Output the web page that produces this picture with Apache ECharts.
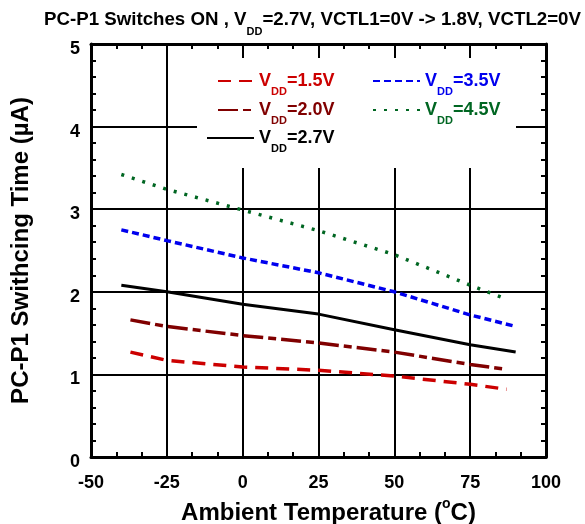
<!DOCTYPE html>
<html>
<head>
<meta charset="utf-8">
<script src="https://cdn.jsdelivr.net/npm/echarts@6/dist/echarts.min.js"></script>
<style>
html,body{margin:0;padding:0;background:#fff;}
#chart{width:585px;height:524px;}
</style>
</head>
<body>
<div id="chart"></div>
<script>
// ---- data ----
const xTicks = [-50, -25, 0, 25, 50, 75, 100];
const yTicks = [0, 1, 2, 3, 4, 5];
const seriesNames = ['1.5', '2.0', '2.7', '3.5', '4.5'];
const x15 = [-37, -25, 0, 25, 50, 75, 87];
const y15 = [1.27, 1.17, 1.09, 1.05, 0.98, 0.88, 0.82];
const x20 = [-37, -25, 0, 25, 50, 75, 87];
const y20 = [1.66, 1.58, 1.47, 1.38, 1.27, 1.12, 1.06];
const x27 = [-40, -25, 0, 25, 50, 75, 90];
const y27 = [2.08, 2.00, 1.85, 1.73, 1.54, 1.36, 1.27];
const x35 = [-40, -25, 0, 25, 50, 75, 89];
const y35 = [2.75, 2.62, 2.41, 2.23, 2.00, 1.72, 1.59];
const x45 = [-40, -25, 0, 25, 50, 75, 87];
const y45 = [3.42, 3.24, 2.99, 2.74, 2.45, 2.08, 1.91];

const zip = (xs, ys) => xs.map((x, i) => [x, ys[i]]);
const FONT = '"Liberation Sans", Arial, sans-serif';

const styles = {
  '1.5': {color: '#cc0000', type: [13, 8], width: 3.5},
  '2.0': {color: '#800000', type: [20, 5, 8, 5], width: 3.5},
  '2.7': {color: '#000000', type: 'solid', width: 3},
  '3.5': {color: '#0000ee', type: [7, 4], width: 3.5},
  '4.5': {color: '#006622', type: [3, 8], width: 3.5}
};
const dataMap = {'1.5': zip(x15, y15), '2.0': zip(x20, y20), '2.7': zip(x27, y27), '3.5': zip(x35, y35), '4.5': zip(x45, y45)};

const series = seriesNames.map(n => ({
  name: n,
  type: 'line',
  symbol: 'none',
  z: 3,
  data: dataMap[n],
  itemStyle: {color: styles[n].color},
  lineStyle: {color: styles[n].color, width: styles[n].width, type: styles[n].type}
}));

const legendRich = {
  v: {fontFamily: FONT, fontWeight: 'bold', fontSize: 18, lineHeight: 24, verticalAlign: 'middle'},
  s: {fontFamily: FONT, fontWeight: 'bold', fontSize: 11, lineHeight: 24, verticalAlign: 'bottom', padding: [0, 0, -4, 0]}
};
function mkLegend(name, left, top, w) {
  return {
    data: [{name: name, textStyle: {color: styles[name].color}}],
    left: left, top: top, orient: 'vertical', padding: 0,
    itemWidth: w, itemHeight: 12, itemGap: 0,
    selectedMode: false, z: 5,
    itemStyle: {opacity: 0, borderWidth: 0},
    formatter: n => '{v|V}{s|DD}{v|=' + n + 'V}',
    textStyle: {rich: legendRich}
  };
}

const axisLine = {onZero: false, lineStyle: {color: '#000', width: 3}};
const tick = {inside: true, length: 14, lineStyle: {color: '#000', width: 2}};
const lblFont = {fontFamily: FONT, fontWeight: 'bold', fontSize: 18, color: '#000'};

const option = {
  animation: false,
  backgroundColor: '#fff',
  title: {
    text: '{m|PC-P1 Switches ON , V}{s|DD}{m|=2.7V, VCTL1=0V -> 1.8V, VCTL2=0V}',
    left: 44, top: 8, padding: 0,
    textStyle: {
      rich: {
        m: {fontFamily: FONT, fontWeight: 'bold', fontSize: 18.7, color: '#000', lineHeight: 24},
        s: {fontFamily: FONT, fontWeight: 'bold', fontSize: 11, color: '#000', lineHeight: 24, verticalAlign: 'bottom', padding: [0, 0, -5, 0]}
      }
    }
  },
  legend: [
    mkLegend('1.5', 217, 72, 36),
    mkLegend('2.0', 217, 101, 36),
    mkLegend('2.7', 206, 129, 47),
    mkLegend('3.5', 372, 72, 47),
    mkLegend('4.5', 372, 101, 47)
  ],
  graphic: [{
    type: 'rect', z: 1,
    shape: {x: 197, y: 58, width: 319, height: 110},
    style: {fill: '#fff'}
  }],
  grid: {left: 91, top: 44, width: 455, height: 413, containLabel: false, outerBoundsMode: 'none'},
  xAxis: [{
    type: 'value', min: -50, max: 100, interval: 25, position: 'bottom',
    name: '{m|Ambient Temperature (}{p|o}{m|C)}',
    nameLocation: 'middle', nameGap: 34,
    nameTextStyle: {padding: [0, 0, 0, 20], rich: {
      m: {fontFamily: FONT, fontWeight: 'bold', fontSize: 24, color: '#000', lineHeight: 28},
      p: {fontFamily: FONT, fontWeight: 'bold', fontSize: 14, color: '#000', lineHeight: 28, verticalAlign: 'top', padding: [-2, 0, 0, 0]}
    }},
    axisLine: axisLine, axisTick: tick,
    minorTick: {show: true, splitNumber: 3, length: 5, lineStyle: {color: '#000', width: 2}},
    axisLabel: Object.assign({margin: 17}, lblFont),
    splitLine: {show: true, lineStyle: {color: '#000', width: 2}}
  }, {
    type: 'value', min: -50, max: 100, interval: 25, position: 'top',
    axisLine: axisLine, axisTick: tick,
    minorTick: {show: true, splitNumber: 3, length: 5, lineStyle: {color: '#000', width: 2}},
    axisLabel: {show: false},
    splitLine: {show: false}
  }],
  yAxis: [{
    type: 'value', min: 0, max: 5, interval: 1, position: 'left',
    name: 'PC-P1 Swithcing Time (µA)',
    nameLocation: 'middle', nameGap: 58, nameRotate: 90,
    nameTextStyle: {fontFamily: FONT, fontWeight: 'bold', fontSize: 24, color: '#000'},
    axisLine: axisLine, axisTick: tick,
    minorTick: {show: true, splitNumber: 5, length: 5, lineStyle: {color: '#000', width: 2}},
    axisLabel: Object.assign({margin: 11, verticalAlign: 'top', lineHeight: 10}, lblFont),
    splitLine: {show: true, lineStyle: {color: '#000', width: 2}}
  }, {
    type: 'value', min: 0, max: 5, interval: 1, position: 'right',
    axisLine: axisLine, axisTick: tick,
    minorTick: {show: true, splitNumber: 5, length: 5, lineStyle: {color: '#000', width: 2}},
    axisLabel: {show: false},
    splitLine: {show: false}
  }],
  series: series
};

const chart = echarts.init(document.getElementById('chart'), null, {renderer: 'canvas'});
chart.setOption(option);
</script>
</body>
</html>
